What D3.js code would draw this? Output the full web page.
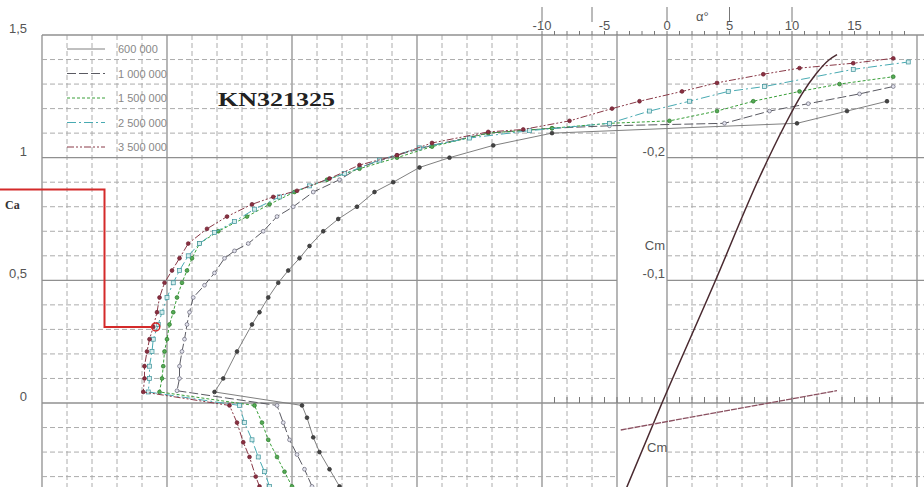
<!DOCTYPE html>
<html>
<head>
<meta charset="utf-8">
<script src="https://cdnjs.cloudflare.com/ajax/libs/d3/7.8.5/d3.min.js"></script>
<style>
  body { margin: 0; background: #fff; }
  svg { display: block; }
</style>
</head>
<body>
<div id="chart"></div>
<script>
// Reynolds numbers of the five polars
const reynolds = ["600 000", "1 000 000", "1 500 000", "2 500 000", "3 500 000"];

// Polars as [Cx, Ca], lower branch first, then upper branch
const polar600k = [[0.0238,-0.34],[0.0230,-0.27],[0.0222,-0.20],[0.0217,-0.14],[0.0212,-0.06],[0.0208,-0.01],
  [0.0138,0.045],[0.0145,0.10],[0.0156,0.21],[0.0168,0.32],[0.0174,0.37],[0.0181,0.43],[0.0189,0.49],[0.0197,0.54],
  [0.0206,0.59],[0.0214,0.64],[0.0225,0.70],[0.0237,0.75],[0.0252,0.80],[0.0266,0.86],[0.0281,0.90],[0.0302,0.96],
  [0.0326,1.00],[0.0361,1.05],[0.0408,1.10],[0.0604,1.14],[0.0644,1.19],[0.0676,1.23]];
const polar1M = [[0.0216,-0.34],[0.0210,-0.27],[0.0204,-0.21],[0.0198,-0.15],[0.0193,-0.08],[0.0188,-0.01],
  [0.0108,0.05],[0.0110,0.10],[0.0110,0.15],[0.0112,0.21],[0.0114,0.26],[0.0116,0.32],[0.0118,0.37],[0.0121,0.43],
  [0.0130,0.48],[0.0138,0.53],[0.0146,0.59],[0.0154,0.62],[0.0165,0.65],[0.0177,0.70],[0.0188,0.76],[0.0201,0.80],
  [0.0217,0.86],[0.0238,0.91],[0.0254,0.96],[0.0284,1.01],[0.0312,1.05],[0.0357,1.10],[0.0408,1.12],[0.0454,1.13],
  [0.0546,1.14],[0.0582,1.19],[0.0613,1.22],[0.0654,1.26],[0.0681,1.29]];
const polar15M = [[0.0200,-0.34],[0.0194,-0.28],[0.0188,-0.22],[0.0181,-0.15],[0.0176,-0.08],[0.0170,-0.01],
  [0.0094,0.045],[0.0096,0.10],[0.0097,0.15],[0.0098,0.21],[0.0100,0.26],[0.0102,0.32],[0.0105,0.37],[0.0108,0.43],
  [0.0112,0.49],[0.0116,0.54],[0.0120,0.59],[0.0126,0.65],[0.0141,0.70],[0.0164,0.76],[0.0182,0.81],[0.0202,0.86],
  [0.0228,0.91],[0.0254,0.955],[0.0284,1.00],[0.0312,1.045],[0.0357,1.10],[0.0408,1.12],[0.0454,1.14],[0.0502,1.15],
  [0.0540,1.19],[0.0569,1.23],[0.0606,1.27],[0.0638,1.30],[0.0681,1.33]];
const polar25M = [[0.0182,-0.34],[0.0178,-0.28],[0.0173,-0.22],[0.0168,-0.15],[0.0162,-0.08],[0.0158,-0.01],
  [0.0085,0.045],[0.0086,0.10],[0.0086,0.15],[0.0088,0.21],[0.0089,0.26],[0.0093,0.32],[0.0096,0.37],[0.0100,0.43],
  [0.0105,0.49],[0.0110,0.54],[0.0117,0.60],[0.0126,0.65],[0.0138,0.695],[0.0154,0.74],[0.0170,0.79],[0.0190,0.84],
  [0.0214,0.885],[0.0242,0.935],[0.0270,0.99],[0.0302,1.04],[0.0342,1.08],[0.0390,1.11],[0.0454,1.14],[0.0486,1.19],
  [0.0518,1.23],[0.0549,1.27],[0.0578,1.29],[0.0649,1.36],[0.0693,1.39]];
const polar35M = [[0.0174,-0.34],[0.0171,-0.30],[0.0166,-0.22],[0.0161,-0.16],[0.0156,-0.08],[0.0150,-0.01],
  [0.0081,0.045],[0.0082,0.10],[0.0082,0.15],[0.0084,0.21],[0.0086,0.26],[0.0089,0.31],[0.0092,0.37],[0.0094,0.43],
  [0.0098,0.49],[0.0104,0.54],[0.0110,0.59],[0.0117,0.65],[0.0132,0.71],[0.0148,0.76],[0.0168,0.81],[0.0185,0.84],
  [0.0204,0.865],[0.0230,0.915],[0.0254,0.97],[0.0284,1.01],[0.0312,1.06],[0.0357,1.105],[0.0385,1.115],[0.0422,1.15],
  [0.0456,1.20],[0.0478,1.23],[0.0512,1.27],[0.0540,1.305],[0.0577,1.34],[0.0606,1.365],[0.0649,1.385],[0.0681,1.405]];

// Lift and moment against angle of attack
const liftAlpha = [-3.6, -0.4, 3.8, 7.4, 9.4, 10.8, 11.9, 13.0, 13.6];
const liftCa = [-0.39, 0, 0.49, 0.92, 1.13, 1.26, 1.34, 1.40, 1.42];
const momentAlpha = [-3.7, 13.6];
const momentCm = [0.022, -0.010];

// Tick labels
const caTicks = [0, 0.5, 1, 1.5];
const caTickLabels = ["0", "0,5", "1", "1,5"];
const cmTicks = [-0.2, -0.1];
const cmTickLabels = ["-0,2", "-0,1"];
const alphaTicks = [-10, -5, 0, 5, 10, 15];
const alphaTickLabels = ["-10", "-5", "0", "5", "10", "15"];
const alphaMarks = [-10, -6, 0, 5, 10];

// Red highlight step line ending on a polar point
const highlight = [[-0.0034, 0.87], [0.005, 0.87], [0.005, 0.31], [0.0088, 0.31]];

const width = 924, height = 487;

const x = d3.scaleLinear().domain([0, 0.07]).range([42, 917]);
const y = d3.scaleLinear().domain([0, 1.5]).range([403, 35]);
const xA = d3.scaleLinear().domain([0, 10]).range([x(0.05), x(0.06)]);
const yCm = d3.scaleLinear().domain([0, -0.2]).range([y(0), y(1)]);

const svg = d3.select('#chart').append('svg')
    .attr('width', width)
    .attr('height', height);

// Grid
const grid = svg.append('g');
d3.range(0, 36).forEach(i => {
    if (i === 24) return; // gap column of the Cm axis
    const px = x(i * 0.002);
    const major = i % 5 === 0 || i === 23;
    grid.append('line')
        .attr('x1', px).attr('x2', px)
        .attr('y1', y(1.5)).attr('y2', height)
        .style('stroke', major ? '#909090' : '#acacac')
        .style('stroke-width', major ? 1.3 : 1)
        .style('stroke-dasharray', major ? null : '5,3');
});
d3.range(-4, 16).forEach(j => {
    const py = y(j / 10);
    const major = j % 5 === 0;
    const spans = (j === 0 || j === 15) ? [[42, width]] : [[42, x(0.046)], [x(0.05), width]];
    spans.forEach(s => {
        grid.append('line')
            .attr('x1', s[0]).attr('x2', s[1])
            .attr('y1', py).attr('y2', py)
            .style('stroke', major ? '#909090' : '#acacac')
            .style('stroke-width', major ? 1.3 : 1)
            .style('stroke-dasharray', major ? null : '5,3');
    });
});

// Alpha ticks (top and on Ca = 0)
const ticks = svg.append('g').style('stroke', '#777').style('stroke-width', 1);
d3.range(-10, 20).forEach(a => {
    ticks.append('line').attr('x1', xA(a)).attr('x2', xA(a)).attr('y1', y(1.5)).attr('y2', y(1.5) - 4);
});
d3.range(-9, 19).forEach(a => {
    ticks.append('line').attr('x1', xA(a)).attr('x2', xA(a)).attr('y1', y(0)).attr('y2', y(0) - 6);
});
alphaMarks.forEach(a => {
    ticks.append('line').attr('x1', xA(a)).attr('x2', xA(a)).attr('y1', 7).attr('y2', 22);
});

// Axis labels
const labels = svg.append('g')
    .style('font-family', '"Liberation Sans", Arial, sans-serif')
    .style('font-size', '13px')
    .style('fill', '#555');
caTicks.forEach((v, i) => {
    labels.append('text').attr('x', 27).attr('y', y(v) - 2)
        .attr('text-anchor', 'end').text(caTickLabels[i]);
});
cmTicks.forEach((v, i) => {
    labels.append('text').attr('x', 665).attr('y', yCm(v) - 2)
        .attr('text-anchor', 'end').text(cmTickLabels[i]);
});
alphaTicks.forEach((v, i) => {
    labels.append('text').attr('x', xA(v)).attr('y', 30)
        .attr('text-anchor', 'middle').text(alphaTickLabels[i]);
});
labels.append('text').attr('x', 696).attr('y', 21).text('α°');
labels.append('text').attr('x', 665).attr('y', 250).attr('text-anchor', 'end').text('Cm');
labels.append('text').attr('x', 647).attr('y', 452).text('Cm');

svg.append('text')
    .attr('x', 5).attr('y', 209)
    .style('font-family', '"Liberation Serif", serif')
    .style('font-weight', 'bold')
    .style('font-size', '12px')
    .style('fill', '#333')
    .text('Ca');

svg.append('text')
    .attr('x', 218).attr('y', 106)
    .attr('textLength', 117)
    .attr('lengthAdjust', 'spacingAndGlyphs')
    .style('font-family', '"Liberation Serif", serif')
    .style('font-weight', 'bold')
    .style('font-size', '19px')
    .style('fill', '#222')
    .text('KN321325');

// Series styles
const series = [
    { name: reynolds[0], data: polar600k, color: '#808080', dash: null, marker: 'circle', mFill: '#444', mStroke: '#333' },
    { name: reynolds[1], data: polar1M, color: '#5a5a62', dash: '9,3', marker: 'circle', mFill: '#e4e4ee', mStroke: '#667' },
    { name: reynolds[2], data: polar15M, color: '#3aa03a', dash: '3,2', marker: 'circle', mFill: '#5a5', mStroke: '#2a7a2a' },
    { name: reynolds[3], data: polar25M, color: '#48aab2', dash: '9,3,2,3', marker: 'square', mFill: '#d4eeee', mStroke: '#3a9098' },
    { name: reynolds[4], data: polar35M, color: '#8a3a48', dash: '7,2,2,2,2,2', marker: 'circle', mFill: '#8a3040', mStroke: '#6a2030' }
];

const line = d3.line().x(d => x(d[0])).y(d => y(d[1]));

series.forEach(s => {
    const g = svg.append('g');
    g.append('path')
        .attr('d', line(s.data))
        .style('fill', 'none')
        .style('stroke', s.color)
        .style('stroke-width', 1)
        .style('stroke-dasharray', s.dash);
    if (s.marker === 'square') {
        g.selectAll('rect').data(s.data).enter().append('rect')
            .attr('x', d => x(d[0]) - 2).attr('y', d => y(d[1]) - 2)
            .attr('width', 4).attr('height', 4)
            .style('fill', s.mFill).style('stroke', s.mStroke).style('stroke-width', 0.7);
    } else {
        g.selectAll('circle').data(s.data).enter().append('circle')
            .attr('cx', d => x(d[0])).attr('cy', d => y(d[1]))
            .attr('r', 1.9)
            .style('fill', s.mFill).style('stroke', s.mStroke).style('stroke-width', 0.7);
    }
});

// Lift curve and moment line
svg.append('path')
    .attr('d', d3.line().x((d, i) => xA(liftAlpha[i])).y(d => y(d)).curve(d3.curveMonotoneX)(liftCa))
    .style('fill', 'none')
    .style('stroke', '#4a2a30')
    .style('stroke-width', 1.5);
svg.append('path')
    .attr('d', d3.line().x((d, i) => xA(momentAlpha[i])).y(d => yCm(d))(momentCm))
    .style('fill', 'none')
    .style('stroke', '#8a5060')
    .style('stroke-width', 1.3)
    .style('stroke-dasharray', '6,1');

// Legend
const legend = svg.append('g');
series.forEach((s, i) => {
    const ly = 49 + i * 24.5;
    legend.append('line')
        .attr('x1', 67).attr('x2', 105).attr('y1', ly).attr('y2', ly)
        .style('stroke', s.color).style('stroke-width', 1)
        .style('stroke-dasharray', s.dash);
    legend.append('text')
        .attr('x', 118).attr('y', ly + 4)
        .style('font-family', '"Liberation Sans", Arial, sans-serif')
        .style('font-size', '11px')
        .style('fill', '#888')
        .text(s.name);
});

// Red highlight
svg.append('path')
    .attr('d', line(highlight))
    .style('fill', 'none')
    .style('stroke', '#d42a2a')
    .style('stroke-width', 2);
svg.append('circle')
    .attr('cx', x(0.0091)).attr('cy', y(0.31)).attr('r', 4)
    .style('fill', 'none').style('stroke', '#d42a2a').style('stroke-width', 1.5);
</script>
</body>
</html>
